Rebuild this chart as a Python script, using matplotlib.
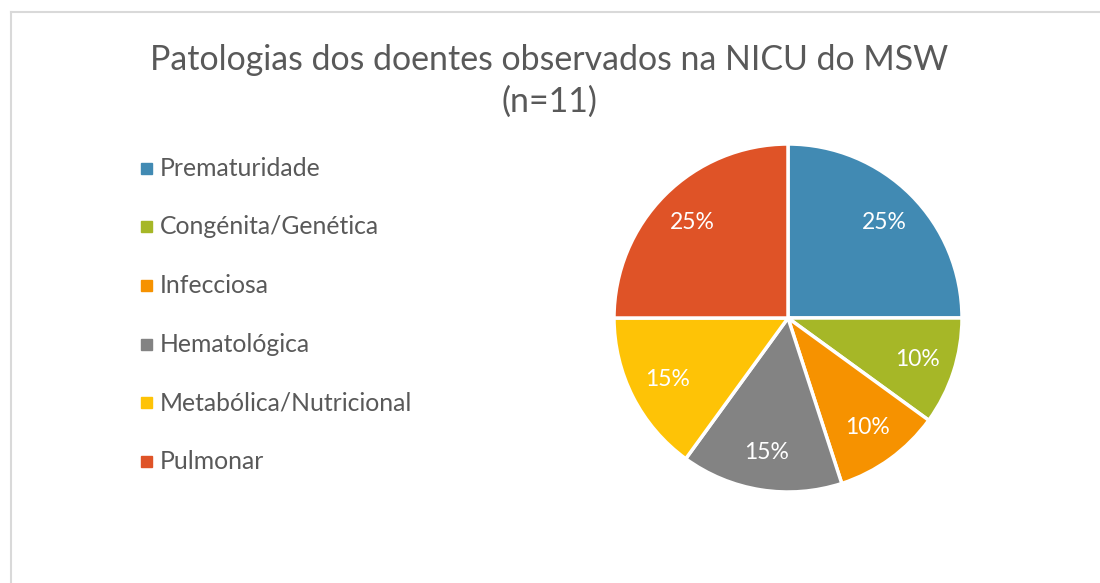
import matplotlib
matplotlib.use("Agg")
import matplotlib.pyplot as plt
from matplotlib.patches import Rectangle
from matplotlib.lines import Line2D

plt.rcParams['font.family'] = ['Lato', 'DejaVu Sans']

# data
categorias = ['Prematuridade', 'Congénita/Genética', 'Infecciosa',
              'Hematológica', 'Metabólica/Nutricional', 'Pulmonar']
percentagens = [25, 10, 10, 15, 15, 25]
cores = ['#418AB3', '#A6B727', '#F69200', '#838383', '#FEC306', '#DF5327']
titulo = 'Patologias dos doentes observados na NICU do MSW\n(n=11)'

W, H = 1100, 583
fig = plt.figure(figsize=(W / 100, H / 100), dpi=100)

# light grey chart frame (top and left edges visible)
fig.add_artist(Line2D([11 / W, 11 / W], [0, 1 - 12 / H], color='#D9D9D9', lw=1.5))
fig.add_artist(Line2D([11 / W, 1], [1 - 12 / H, 1 - 12 / H], color='#D9D9D9', lw=1.5))

# pie: centre (788, 318) px, radius 174 px
cx, cy, r = 788, 318, 174
ax = fig.add_axes([(cx - r) / W, (H - cy - r) / H, 2 * r / W, 2 * r / H])
wedges, textos, autotextos = ax.pie(
    percentagens, colors=cores, startangle=90, counterclock=False,
    autopct='%d%%', pctdistance=0.78,
    wedgeprops=dict(edgecolor='white', linewidth=2.5),
    textprops=dict(color='white', fontsize=16.5))
ax.set_xlim(-1, 1)
ax.set_ylim(-1, 1)
ax.set_aspect('equal')

fig.text(549 / W, 1 - 81 / H, titulo, ha='center', va='center',
         fontsize=24.4, color='#595959', linespacing=1.38)

# legend on the left
y0, passo = 168, 58.7
for i, (cat, cor) in enumerate(zip(categorias, cores)):
    y = y0 + i * passo
    fig.add_artist(Rectangle(((146.5 - 5.5) / W, 1 - (y + 5.5) / H), 11 / W, 11 / H,
                             color=cor, transform=fig.transFigure))
    fig.text(160 / W, 1 - y / H, cat, ha='left', va='center',
             fontsize=17.8, color='#595959')

fig.savefig('out.png', dpi=100)
